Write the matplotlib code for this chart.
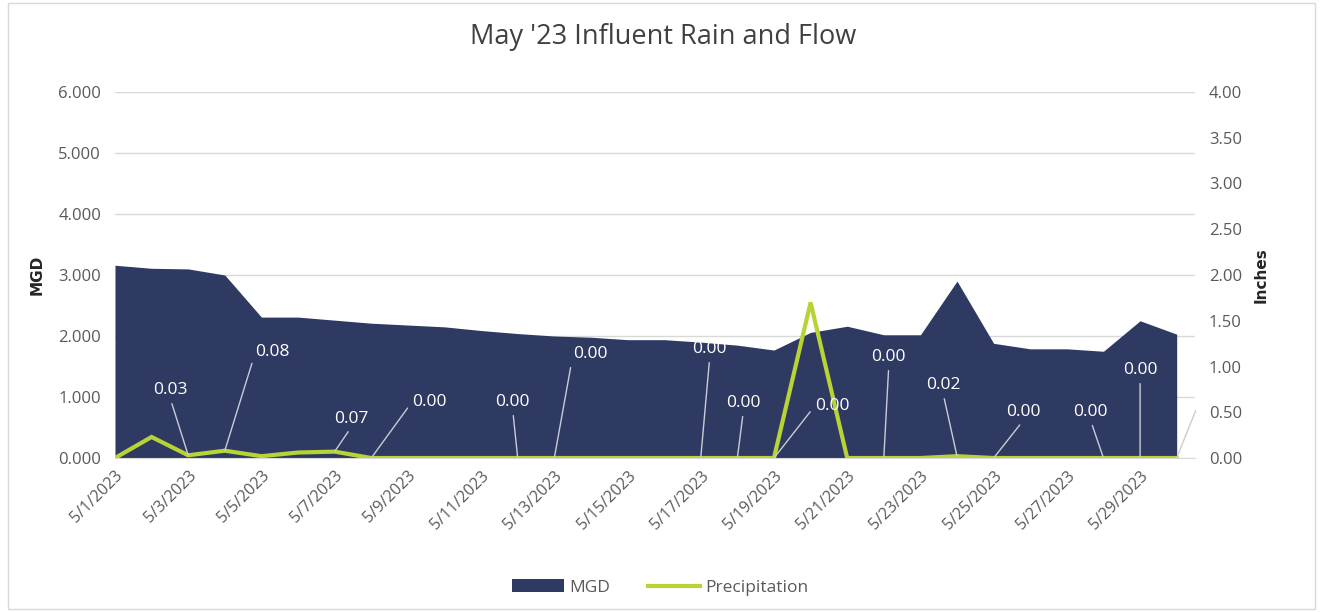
"""May '23 influent rain and flow: MGD area with precipitation line on a second axis."""
import matplotlib

matplotlib.use("Agg")
import matplotlib.pyplot as plt
from matplotlib.lines import Line2D
from matplotlib.patches import Patch

NAVY = "#2F3A63"
LIME = "#B7D335"
GREY_TXT = "#595959"
GRID = "#D9D9D9"

plt.rcParams.update({
    "font.family": ["Open Sans", "DejaVu Sans"],
    "font.size": 10,
})

# ---- data (5/1/2023 .. 5/30/2023) ----
days = [f"5/{d}/2023" for d in range(1, 31)]
mgd = [3.16, 3.11, 3.10, 3.00, 2.31, 2.31, 2.26, 2.21, 2.18, 2.15,
       2.09, 2.04, 2.00, 1.98, 1.94, 1.94, 1.90, 1.85, 1.77, 2.06,
       2.16, 2.02, 2.02, 2.90, 1.88, 1.79, 1.79, 1.75, 2.25, 2.03]
precip = [0.00, 0.23, 0.03, 0.08, 0.02, 0.06, 0.07, 0.00, 0.00, 0.00,
          0.00, 0.00, 0.00, 0.00, 0.00, 0.00, 0.00, 0.00, 0.00, 1.70,
          0.00, 0.00, 0.00, 0.02, 0.00, 0.00, 0.00, 0.00, 0.00, 0.00]

# which points carry a data label, and where the label sits (offset in px)
label_idx = [2, 3, 6, 7, 11, 12, 16, 17, 18, 21, 23, 24, 27, 28, 29]
label_off = [(-18, 65), (48, 99), (17, 33), (58, 56), (-5, 56), (36, 104),
             (9, 109), (6, 55), (58, 52), (5, 101), (-14, 71), (30, 46),
             (-13, 46), (0, 88), (20, 50)]


def main():
    fig = plt.figure(figsize=(13.2, 6.12), dpi=100)
    ax1 = fig.add_axes([0.0871, 0.2516, 0.8182, 0.5981])
    x = list(range(len(days)))

    ax1.fill_between(x, mgd, 0, color=NAVY, lw=0, zorder=2)
    ax1.set_xlim(0, 29.5)
    ax1.set_ylim(0, 6)
    ax1.set_yticks([0, 1, 2, 3, 4, 5, 6])
    ax1.set_yticklabels([f"{v:.3f}" for v in range(7)])
    ax1.grid(axis="y", color=GRID, lw=1, zorder=0)
    ax1.set_axisbelow(True)
    ax1.set_xticks(x[::2])
    ax1.set_xticklabels(days[::2], rotation=45, ha="right",
                        rotation_mode="anchor", color=GREY_TXT, fontsize=11.5)
    ax1.tick_params(axis="x", length=0, pad=7)
    ax1.tick_params(axis="y", length=0, pad=10, labelcolor=GREY_TXT,
                    labelsize=12)
    for s in ["top", "left", "right"]:
        ax1.spines[s].set_visible(False)
    ax1.spines["bottom"].set_color(GRID)
    ax1.set_ylabel("MGD", fontweight="bold", fontsize=11,
                   family=["Liberation Sans Narrow", "DejaVu Sans"],
                   color="#262626", labelpad=10)

    ax2 = ax1.twinx()
    ax2.plot(x, precip, color=LIME, lw=3, solid_joinstyle="miter", zorder=3)
    ax2.set_ylim(0, 4)
    ax2.set_yticks([i * 0.5 for i in range(9)])
    ax2.set_yticklabels([f"{i * 0.5:.2f}" for i in range(9)])
    ax2.tick_params(axis="y", length=0, pad=10, labelcolor=GREY_TXT,
                    labelsize=12)
    for s in ax2.spines.values():
        s.set_visible(False)
    ax2.set_ylabel("Inches", fontweight="bold", fontsize=11,
                   family=["Liberation Sans Narrow", "DejaVu Sans"],
                   color="#262626", labelpad=8)

    for i, (dx, dy) in zip(label_idx, label_off):
        if abs(dx) > 30:
            rel = (0.0, 0.5) if dx > 0 else (1.0, 0.5)
        else:
            rel = (0.5, 0.0)
        txt = f"{precip[i]:.2f}" if i != 29 else ""
        ax2.annotate(txt, xy=(i, precip[i]), xytext=(dx, dy),
                     textcoords="offset pixels", ha="center", va="center",
                     color="white", fontsize=12.5, zorder=4,
                     arrowprops=dict(arrowstyle="-", color="#C9CCD6", lw=1,
                                     shrinkA=2, shrinkB=0, relpos=rel))

    fig.text(0.502, 0.94, "May '23 Influent Rain and Flow", ha="center",
             va="center", fontsize=19.5, color="#404040")

    handles = [Patch(facecolor=NAVY, edgecolor="none", label="MGD"),
               Line2D([0], [0], color=LIME, lw=3, label="Precipitation")]
    fig.legend(handles=handles, loc="center", bbox_to_anchor=(0.5, 0.04),
               ncol=2, frameon=False, fontsize=12.5, handlelength=3.0,
               handletextpad=0.3, columnspacing=2.2, labelcolor=GREY_TXT)

    # thin chart border like the Excel chart area
    fig.patches.append(plt.Rectangle((0.006, 0.005), 0.99, 0.99,
                                     transform=fig.transFigure, fill=False,
                                     edgecolor="#D9D9D9", lw=1))

    fig.savefig("out.png", dpi=100)
    plt.close(fig)


if __name__ == "__main__":
    main()
